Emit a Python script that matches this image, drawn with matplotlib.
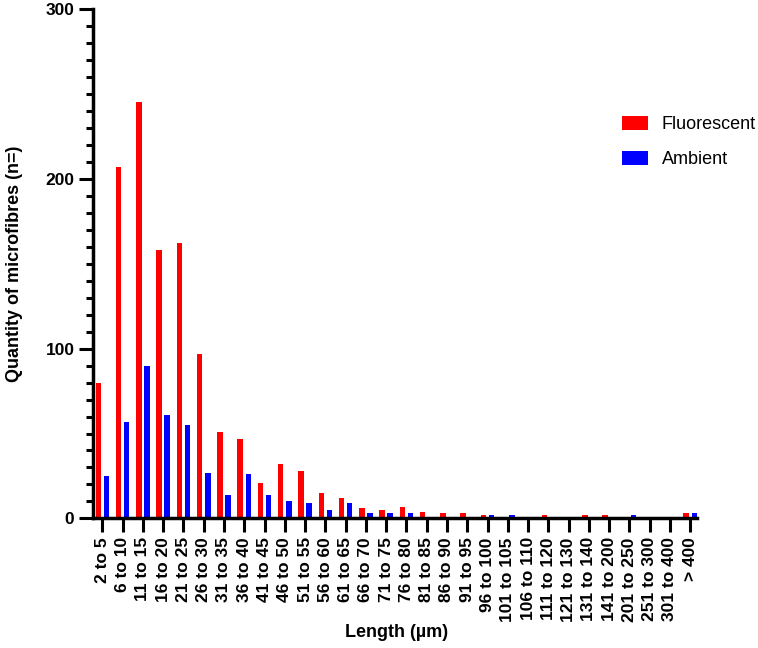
import matplotlib.pyplot as plt
import numpy as np

plt.rcParams['font.family'] = ['Liberation Sans', 'DejaVu Sans']

categories = ["2 to 5", "6 to 10", "11 to 15", "16 to 20", "21 to 25", "26 to 30",
              "31 to 35", "36 to 40", "41 to 45", "46 to 50", "51 to 55", "56 to 60",
              "61 to 65", "66 to 70", "71 to 75", "76 to 80", "81 to 85", "86 to 90",
              "91 to 95", "96 to 100", "101 to 105", "106 to 110", "111 to 120",
              "121 to 130", "131 to 140", "141 to 200", "201 to 250", "251 to 300",
              "301 to 400", "> 400"]
fluorescent = [80, 207, 245, 158, 162, 97, 51, 47, 21, 32, 28, 15, 12, 6, 5, 7,
               4, 3, 3, 2, 0, 0, 2, 0, 2, 2, 0, 0, 0, 3]
ambient = [25, 57, 90, 61, 55, 27, 14, 26, 14, 10, 9, 5, 9, 3, 3, 3,
           0, 0, 0, 2, 2, 0, 0, 0, 0, 0, 2, 0, 0, 3]

fig = plt.figure(figsize=(7.58, 6.48), dpi=100)
ax = fig.add_axes([0.123, 0.2, 0.797, 0.786])

x = np.arange(len(categories))
w = 0.27
ax.bar(x - 0.2, fluorescent, w, color='#ff0000', label='Fluorescent')
ax.bar(x + 0.2, ambient, w, color='#0000ff', label='Ambient')

ax.set_xlim(-0.45, 29.35)
ax.set_ylim(0, 300)
ax.set_yticks([0, 100, 200, 300])
ax.set_yticks(np.arange(0, 301, 10), minor=True)
ax.set_yticklabels(["0", "100", "200", "300"], fontsize=12.5, fontweight='bold')
ax.set_xticks(x)
ax.set_xticklabels(categories, rotation=90, fontsize=12.5, fontweight='bold')
ax.tick_params(axis='y', width=2.2, length=10)
ax.tick_params(axis='y', which='minor', width=2.2, length=5)
ax.tick_params(axis='x', width=2.2, length=10)

for s in ['top', 'right']:
    ax.spines[s].set_visible(False)
for s in ['left', 'bottom']:
    ax.spines[s].set_linewidth(2.5)

ax.set_ylabel("Quantity of microfibres (n=)", fontsize=13, fontweight='bold')
ax.yaxis.set_label_coords(-0.117, 0.5)
ax.set_xlabel("Length (µm)", fontsize=13, fontweight='bold')
ax.xaxis.set_label_coords(0.502, -0.208)

leg = ax.legend(loc='upper left', bbox_to_anchor=(0.875, 0.79), frameon=False,
                fontsize=13, handlelength=1.45, handleheight=0.85, labelspacing=0.95,
                handletextpad=0.75, borderaxespad=0, borderpad=0)

fig.savefig("out.png", dpi=100)
